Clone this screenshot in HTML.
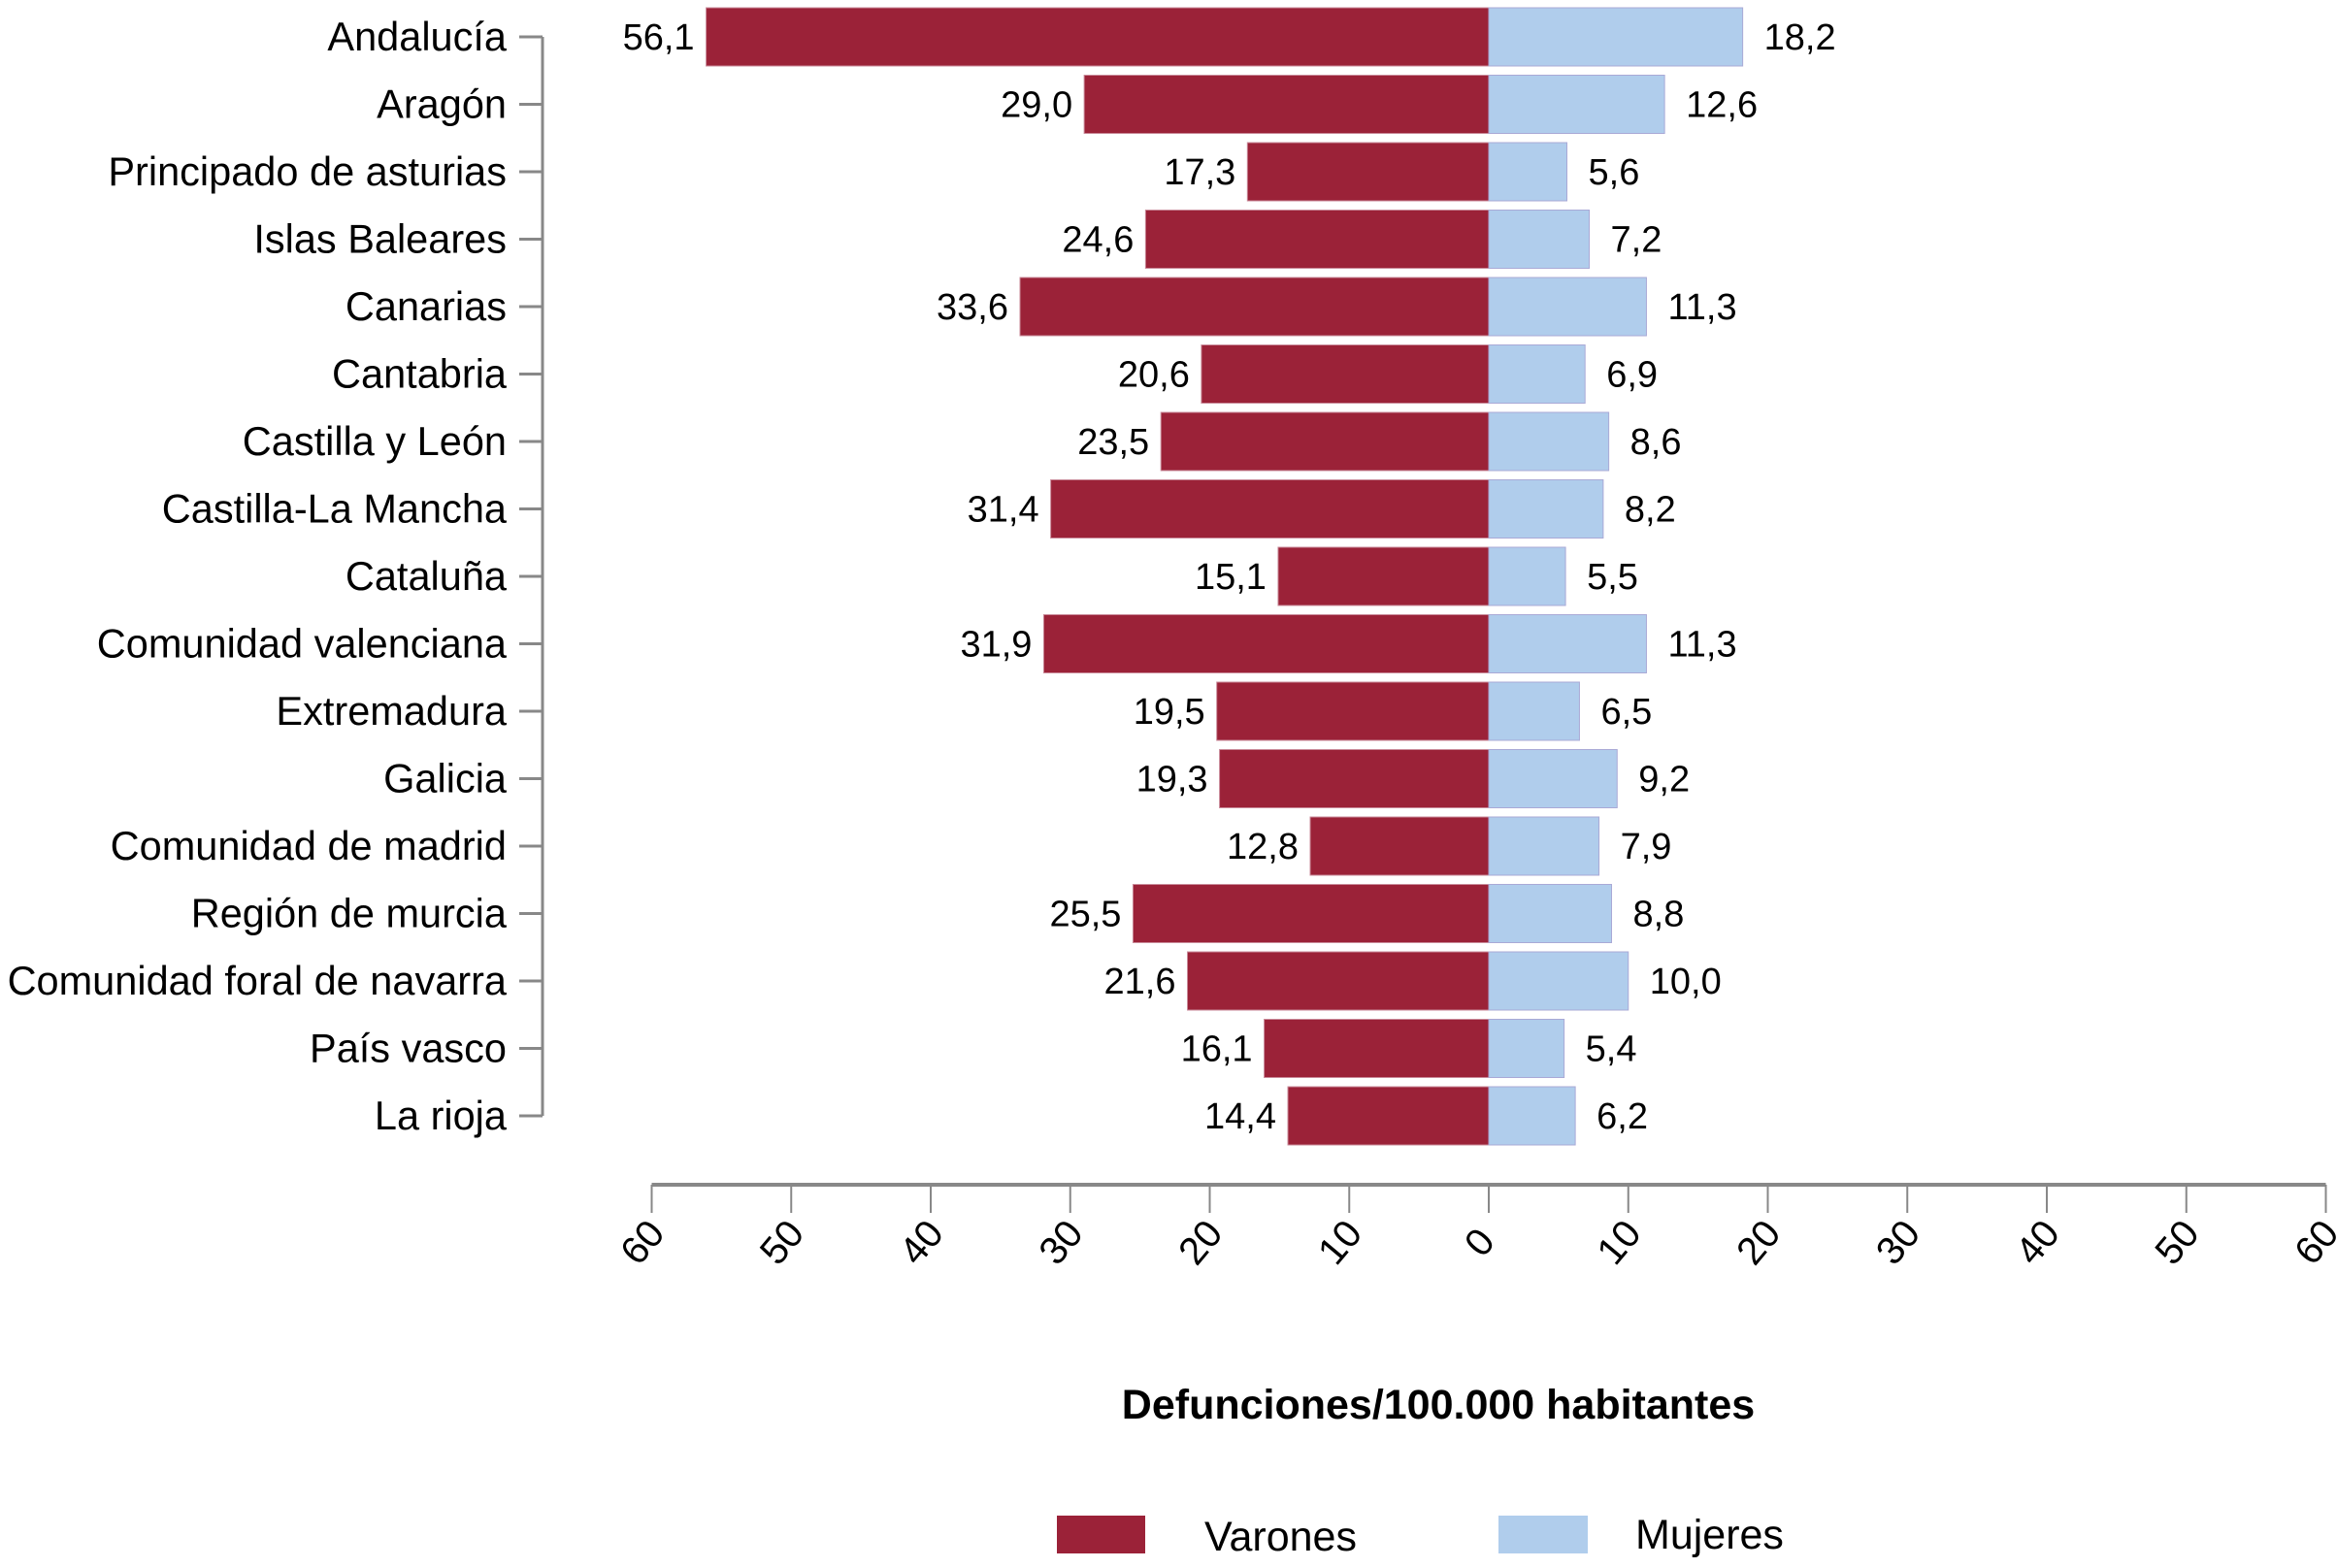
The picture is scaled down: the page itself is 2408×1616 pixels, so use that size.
<!DOCTYPE html>
<html><head><meta charset="utf-8">
<style>
html,body{margin:0;padding:0;background:#fff;}
svg{display:block;font-family:"Liberation Sans Narrow","Liberation Sans",sans-serif;}
</style></head>
<body>
<svg id="chart" width="2408" height="1616" viewBox="0 0 2408 1616" xmlns="http://www.w3.org/2000/svg">
<g id="bars"></g>
<g id="yaxis"></g>
<g id="xaxis"></g>
<text x="1482" y="1462" text-anchor="middle" font-size="43" font-weight="bold" fill="#000">Defunciones/100.000 habitantes</text>
<g>
<rect x="1089" y="1562" width="91" height="39" fill="#9b2238"/>
<text x="1241" y="1598" font-size="43" fill="#000">Varones</text>
<rect x="1544" y="1562" width="92" height="39" fill="#b0cdec"/>
<text x="1685" y="1596" font-size="43" fill="#000">Mujeres</text>
</g>
</svg>
<script>
const categories=["Andalucía","Aragón","Principado de asturias","Islas Baleares","Canarias","Cantabria","Castilla y León","Castilla-La Mancha","Cataluña","Comunidad valenciana","Extremadura","Galicia","Comunidad de madrid","Región de murcia","Comunidad foral de navarra","País vasco","La rioja"];
const varones=[56.1,29.0,17.3,24.6,33.6,20.6,23.5,31.4,15.1,31.9,19.5,19.3,12.8,25.5,21.6,16.1,14.4];
const mujeres=[18.2,12.6,5.6,7.2,11.3,6.9,8.6,8.2,5.5,11.3,6.5,9.2,7.9,8.8,10.0,5.4,6.2];
const ticks=[-60,-50,-40,-30,-20,-10,0,10,20,30,40,50,60];

const NS="http://www.w3.org/2000/svg";
const x0=1534, unit=14.375, y0=38, pitch=69.5, bh=60;
const xs=v=>x0+v*unit;
const yc=i=>y0+i*pitch;
const fmt=v=>v.toFixed(1).replace('.',',');
function mk(tag,attrs,parent,text){const e=document.createElementNS(NS,tag);for(const k in attrs)e.setAttribute(k,attrs[k]);if(text!==undefined)e.textContent=text;parent.appendChild(e);return e;}
const gb=document.getElementById('bars'),gy=document.getElementById('yaxis'),gx=document.getElementById('xaxis');
categories.forEach((c,i)=>{
  const y=yc(i);
  const r1=mk('rect',{x:xs(-varones[i]),y:y-bh/2,width:xs(0)-xs(-varones[i]),height:bh,fill:'#9b2238',stroke:'#c98a99','stroke-width':1},gb);
  
  
  const r2=mk('rect',{x:xs(0),y:y-bh/2,width:xs(mujeres[i])-xs(0),height:bh,fill:'#b0cdec',stroke:'#a9a9d6','stroke-width':1},gb);
  
  
  const t1=mk('text',{x:xs(-varones[i])-12,y:y+13,'text-anchor':'end','font-size':38,fill:'#000'},gb,fmt(varones[i]));
  
  
  const t2=mk('text',{x:xs(mujeres[i])+22,y:y+13,'font-size':38,fill:'#000'},gb,fmt(mujeres[i]));
  
  
  const cl=mk('text',{x:522,y:y+14,'text-anchor':'end','font-size':41.5,fill:'#000'},gy,c);
  
  
  const tk=mk('line',{x1:535,x2:559,y1:y,y2:y,stroke:'#888','stroke-width':3},gy);
  
  
});
const yl=mk('line',{x1:559,x2:559,y1:yc(0),y2:yc(categories.length-1),stroke:'#888','stroke-width':3},gy);


const xl=mk('line',{x1:xs(-60),x2:xs(60),y1:1221,y2:1221,stroke:'#888','stroke-width':4},gx);


ticks.forEach(t=>{
  const x=xs(t);
  const l=mk('line',{x1:x,x2:x,y1:1221,y2:1250,stroke:'#888','stroke-width':2},gx);
  
  
  const tl=mk('text',{x:x-10,y:1294,'text-anchor':'middle','font-size':40,fill:'#000',transform:`rotate(-50 ${x-10} 1280)`},gx,String(Math.abs(t)));
  
  
});
</script>
</body></html>
